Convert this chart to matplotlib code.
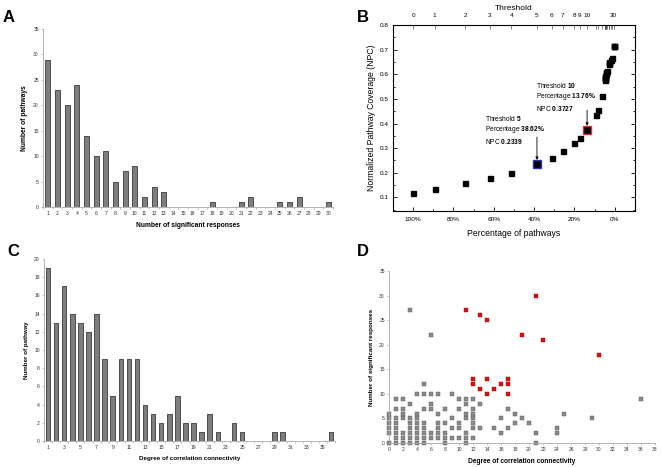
import numpy as np
import matplotlib
matplotlib.use("Agg")
import matplotlib.pyplot as plt
from matplotlib.ticker import MultipleLocator

plt.rcParams['font.family'] = ['Liberation Sans', 'DejaVu Sans']
plt.rcParams['mathtext.fontset'] = 'custom'
plt.rcParams['mathtext.rm'] = 'Liberation Sans'
plt.rcParams['mathtext.bf'] = 'Liberation Sans:bold'

# ---------------- data ----------------
# Panel A : number of pathways per number of significant responses
resp_cat = list(range(1, 31))
resp_count = [29, 23, 20, 24, 14, 10, 11, 5, 7, 8, 2, 4, 3, 0, 0,
              0, 0, 1, 0, 0, 1, 2, 0, 0, 1, 1, 2, 0, 0, 1]

# Panel B : NPC against percentage of pathways, one point per threshold
thresholds = list(range(0, 31))
pct_pathways = [100, 89.42, 74.07, 61.90, 51.32, 38.62, 31.22, 25.93, 20.11, 17.46,
                13.76, 9.52, 8.47, 6.35, 4.76, 4.76, 4.76, 4.76, 4.76, 4.23,
                4.23, 4.23, 3.70, 2.65, 2.65, 2.65, 2.12, 1.59, 0.53, 0.53, 0.53]
npc = [0.120, 0.134, 0.157, 0.177, 0.199, 0.2339, 0.262, 0.287, 0.321, 0.340,
       0.3727, 0.434, 0.456, 0.513, 0.575, 0.580, 0.585, 0.590, 0.595, 0.600,
       0.605, 0.610, 0.614, 0.640, 0.645, 0.650, 0.656, 0.668, 0.716, 0.716, 0.716]
labelled_thr = [0, 1, 2, 3, 4, 5, 6, 7, 8, 9, 10, 30]

# Panel C : number of pathways per degree of correlation connectivity
deg_cat = list(range(1, 37))
deg_count = [19, 13, 17, 14, 13, 12, 14, 9, 5, 9, 9, 9, 4, 3, 2, 3, 5, 2,
             2, 1, 3, 1, 0, 2, 1, 0, 0, 0, 1, 1, 0, 0, 0, 0, 0, 1]

# Panel D : significant responses vs connectivity
gray_x = [0, 0, 0, 0, 0, 0,
          1, 1, 1, 1, 1, 1, 1, 1,
          2, 2, 2, 2, 2, 2, 2,
          3, 3, 3, 3, 3, 3, 3, 3,
          4, 4, 4, 4, 4, 4, 4, 4,
          5, 5, 5, 5, 5, 5, 5, 5,
          6, 6, 6, 6, 6, 6,
          7, 7, 7, 7, 7, 7,
          8, 8, 8, 8, 8,
          9, 9, 9, 9,
          10, 10, 10, 10, 10,
          11, 11, 11, 11, 11, 11, 11,
          12, 12, 12, 12, 12, 12, 12,
          13, 13, 15, 16, 16, 17, 17, 18, 18, 19, 20, 21, 21,
          24, 24, 25, 29, 36]
gray_y = [0, 2, 3, 4, 5, 6,
          0, 1, 2, 3, 4, 5, 7, 9,
          0, 1, 2, 5, 6, 7, 9,
          0, 1, 2, 3, 4, 5, 8, 27,
          0, 1, 2, 3, 4, 5, 6, 10,
          0, 1, 2, 3, 4, 7, 10, 12,
          1, 2, 7, 8, 10, 22,
          1, 2, 3, 4, 6, 10,
          0, 1, 2, 4, 7,
          1, 3, 5, 10,
          1, 3, 4, 7, 9,
          0, 1, 2, 5, 6, 8, 9,
          1, 3, 4, 5, 6, 7, 9,
          3, 8, 3, 2, 5, 3, 7, 4, 6, 5, 4, 0, 2,
          2, 3, 6, 5, 9]
red_x = [11, 13, 14, 19, 21, 22, 30, 12, 12, 13, 14, 14, 15, 16, 17, 17, 17]
red_y = [27, 26, 25, 22, 30, 21, 18, 13, 12, 11, 13, 10, 11, 12, 13, 12, 10]

# ---------------- figure ----------------
W, H = 661, 467
fig = plt.figure(figsize=(W / 100, H / 100), dpi=100)


def px_axes(left, top, right, bottom):
    return fig.add_axes([left / W, 1 - bottom / H, (right - left) / W, (bottom - top) / H])


def excel_style(ax, tick_fs=3.6):
    for s in ['top', 'right']:
        ax.spines[s].set_visible(False)
    for s in ['left', 'bottom']:
        ax.spines[s].set_color('#a8a8a8')
        ax.spines[s].set_linewidth(0.6)
    ax.tick_params(axis='both', which='both', labelsize=tick_fs, colors='#a8a8a8',
                   labelcolor='#333333', width=0.5, length=1.5, pad=1.5)


bar_face = '#7e7e7e'
bar_edge = '#3a3a3a'

# Panel A
axA = px_axes(43, 29, 333, 207)
axA.bar(resp_cat, resp_count, width=0.5, color=bar_face, edgecolor=bar_edge, linewidth=0.6)
axA.set_xlim(0.5, 30.5)
axA.set_ylim(0, 35)
axA.set_yticks(range(0, 36, 5))
axA.set_xticks(resp_cat)
axA.xaxis.set_minor_locator(MultipleLocator(1, offset=0.5))
excel_style(axA)
axA.tick_params(axis='x', which='major', length=0, pad=3)
axA.set_ylabel('Number of pathways', fontsize=4.8, fontweight='bold', labelpad=4)
axA.set_xlabel('Number of significant responses', fontsize=4.8, fontweight='bold', labelpad=4)

# Panel C
axC = px_axes(44, 259, 335, 441)
axC.bar(deg_cat, deg_count, width=0.55, color=bar_face, edgecolor=bar_edge, linewidth=0.6)
axC.set_xlim(0.5, 36.5)
axC.set_ylim(0, 20)
axC.set_yticks(range(0, 21, 2))
axC.set_xticks(range(1, 36, 2))
axC.xaxis.set_minor_locator(MultipleLocator(1, offset=0.5))
excel_style(axC)
axC.tick_params(axis='x', which='major', length=0, pad=3)
axC.set_ylabel('Number of pathway', fontsize=4.5, fontweight='bold', labelpad=4)
axC.set_xlabel('Degree of correlation connectivity', fontsize=4.5, fontweight='bold', labelpad=4)

# Panel B
axB = px_axes(393, 25, 635, 211)
axB.plot(pct_pathways, npc, linestyle='none', marker='s', markersize=3.6,
         color='black', zorder=3)
axB.plot(pct_pathways[5], npc[5], marker='s', markersize=6, color='black',
         markeredgecolor='#2b36b8', markeredgewidth=1.0, zorder=4)
axB.plot(pct_pathways[10], npc[10], marker='s', markersize=6, color='black',
         markeredgecolor='#d2343a', markeredgewidth=1.0, zorder=4)
axB.set_xlim(110, -10)
axB.set_ylim(0.045, 0.8)
axB.set_xticks([100, 80, 60, 40, 20, 0])
axB.set_xticklabels(['100%', '80%', '60%', '40%', '20%', '0%'])
axB.xaxis.set_minor_locator(MultipleLocator(10))
axB.set_yticks(np.arange(0.1, 0.81, 0.1))
axB.set_yticklabels(['0.1', '0.2', '0.3', '0.4', '0.5', '0.6', '0.7', '0.8'])
axB.yaxis.set_minor_locator(MultipleLocator(0.05))
axB.tick_params(axis='both', which='both', direction='in', labelsize=4.6,
                width=0.6, right=True, pad=3)
axB.tick_params(axis='both', which='major', length=3)
axB.tick_params(axis='both', which='minor', length=1.5)
axB.tick_params(axis='x', which='both', top=False, pad=4)
for s in axB.spines.values():
    s.set_linewidth(0.7)
axB.set_xlabel('Percentage of pathways', fontsize=6.2, labelpad=5)
axB.set_ylabel('Normalized Pathway Coverage (NPC)', fontsize=6.2, labelpad=3)

axT = axB.twiny()
axT.set_xlim(axB.get_xlim())
axT.set_xticks([pct_pathways[t] for t in labelled_thr])
axT.set_xticklabels([str(t) for t in labelled_thr])
axT.set_xticks([pct_pathways[t] for t in thresholds if t not in labelled_thr], minor=True)
axT.tick_params(axis='x', which='both', direction='in', length=3, width=0.5,
                labelsize=4.6, pad=5, color='#555555')
axT.set_xlabel('Threshold', fontsize=6, labelpad=2)

ann_fs = 4.8
for k, tx, ty0, yt in [(5, 64.2, 0.422, 0.345), (10, 39.3, 0.556, 0.4545)]:
    lines = [r'Threshold $\mathbf{%d}$' % thresholds[k],
             r'Percentage $\mathbf{%.2f\%%}$' % pct_pathways[k],
             r'NPC $\mathbf{%.4f}$' % npc[k]]
    for j, line in enumerate(lines):
        axB.text(tx, ty0 - j * 0.0465, line, fontsize=ann_fs, ha='left', va='center')
    axB.annotate('', xy=(pct_pathways[k], npc[k] + 0.018), xytext=(pct_pathways[k], yt),
                 arrowprops=dict(arrowstyle='-|>', color='black', lw=0.6,
                                 mutation_scale=4, shrinkA=0, shrinkB=0))

# Panel D
axD = px_axes(389, 271, 655, 443)
axD.plot(gray_x, gray_y, linestyle='none', marker='s', markersize=2.2,
         color='#8a8a8a', markeredgecolor='#5a5a5a', markeredgewidth=0.3, clip_on=False)
axD.plot(red_x, red_y, linestyle='none', marker='s', markersize=2.6,
         color='#d41515', markeredgecolor='#a00000', markeredgewidth=0.3, clip_on=False)
axD.set_xlim(0, 38)
axD.set_ylim(0, 35)
axD.set_xticks(range(0, 39, 2))
axD.set_yticks(range(0, 36, 5))
excel_style(axD, tick_fs=3.6)
axD.set_ylabel('Number of significant responses', fontsize=4.5, fontweight='bold', labelpad=4)
axD.set_xlabel('Degree of correlation connectivity', fontsize=4.8, fontweight='bold', labelpad=4)

# panel letters
for letter, x, y in [('A', 9, 18), ('B', 363, 18), ('C', 13, 252), ('D', 363, 252)]:
    fig.text(x / W, 1 - y / H, letter, fontsize=12, fontweight='bold',
             ha='center', va='center')

fig.savefig('out.png', dpi=100)
